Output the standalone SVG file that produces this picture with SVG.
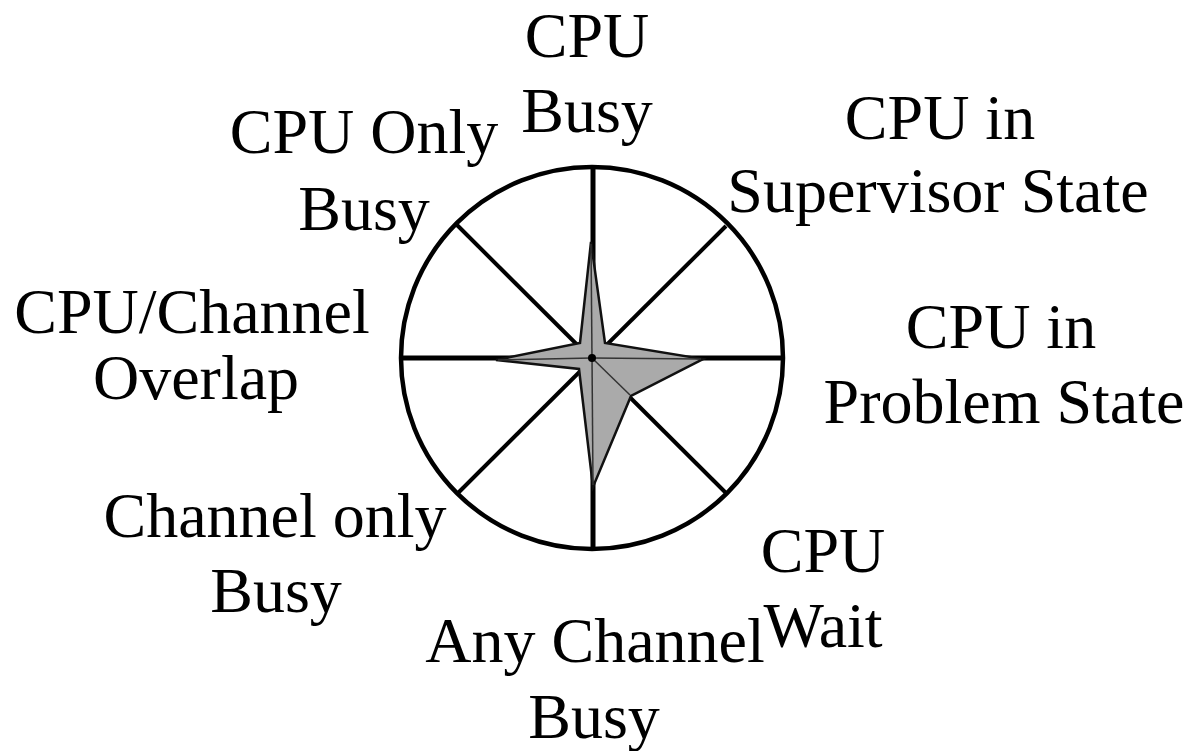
<svg xmlns="http://www.w3.org/2000/svg" width="1191" height="751" viewBox="0 0 1191 751">
<style>
.lbl{font-family:"Liberation Serif","Times New Roman",serif;font-size:64px;fill:#000;text-anchor:middle}
.spoke{stroke:#000;stroke-width:5;stroke-linecap:butt}
.diag{stroke:#000;stroke-width:4}
.ring{fill:none;stroke:#000;stroke-width:4.5}
.star{fill:#aaaaaa;stroke:#111;stroke-width:2.5;stroke-linejoin:miter}
.inner{stroke:#333;stroke-width:1.5}
</style>
<rect width="1191" height="751" fill="#fff"/>
<g id="chart">
<circle class="ring" cx="592" cy="358" r="191"/>
<g id="connectors">
<line class="spoke" x1="593" y1="167" x2="593" y2="550"/>
<line class="spoke" x1="400" y1="358" x2="785" y2="358"/>
<line class="diag" x1="457" y1="225" x2="726" y2="493"/>
<line class="diag" x1="726" y1="226" x2="458" y2="493"/>
</g>
<g id="star">
<polygon class="star" points="591,242 605,343 703,359 631,396 593,487 579,369 496,360 580,343"/>
<g class="inner">
<line x1="592" y1="358" x2="591" y2="244"/>
<line x1="592" y1="358" x2="701" y2="359"/>
<line x1="592" y1="358" x2="630" y2="395"/>
<line x1="592" y1="358" x2="593" y2="485"/>
<line x1="592" y1="358" x2="498" y2="360"/>
</g>
<circle cx="592" cy="358" r="4" fill="#000"/>
</g>
</g>
<g id="n-cpu-busy"><text class="lbl" x="587" y="57">CPU</text><text class="lbl" x="587" y="132">Busy</text></g>
<g id="n-cpu-supervisor"><text class="lbl" x="940" y="139">CPU in</text><text class="lbl" x="938" y="212">Supervisor State</text></g>
<g id="n-cpu-problem"><text class="lbl" x="1001" y="348">CPU in</text><text class="lbl" x="1004" y="423">Problem State</text></g>
<g id="n-cpu-wait"><text class="lbl" x="823" y="572">CPU</text><text class="lbl" x="823" y="647">Wait</text></g>
<g id="n-any-channel"><text class="lbl" x="595" y="662">Any Channel</text><text class="lbl" x="594" y="738">Busy</text></g>
<g id="n-channel-only"><text class="lbl" x="275" y="537">Channel only</text><text class="lbl" x="276" y="612">Busy</text></g>
<g id="n-overlap"><text class="lbl" x="192" y="333">CPU/Channel</text><text class="lbl" x="196" y="399">Overlap</text></g>
<g id="n-cpu-only"><text class="lbl" x="364" y="153">CPU Only</text><text class="lbl" x="364" y="230">Busy</text></g>
</svg>
